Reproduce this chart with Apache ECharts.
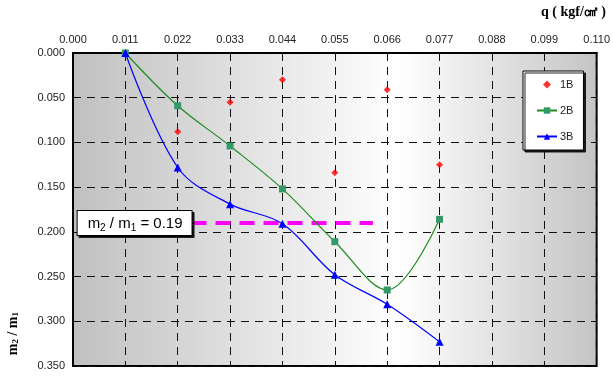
<!DOCTYPE html>
<html>
<head>
<meta charset="utf-8">
<script src="https://cdn.jsdelivr.net/npm/echarts@6/dist/echarts.min.js"></script>
<style>
  html, body { margin: 0; padding: 0; background: #fff; }
  #chart { width: 613px; height: 376px; }
</style>
</head>
<body>
<div id="chart"></div>
<script>
// Load q (kgf/cm²) on the x axis
const qValues = [0.011, 0.022, 0.033, 0.044, 0.055, 0.066, 0.077];
// m2 / m1 ratios per specimen
const s1B = [null, 0.088, 0.055, 0.030, 0.134, 0.041, 0.125];
const s2B = [0.000, 0.059, 0.104, 0.152, 0.211, 0.265, 0.186];
const s3B = [0.000, 0.128, 0.169, 0.191, 0.248, 0.281, 0.323];
// Reference ratio line
const refRatio = 0.19;
const refRange = [0.0249, 0.0630];

const pairs = (ys) => qValues.map((x, i) => [x, ys[i]]).filter(p => p[1] !== null);

const chart = echarts.init(document.getElementById('chart'), null, { renderer: 'canvas' });

const tickFont = { fontFamily: 'Liberation Sans, Arial, sans-serif', fontSize: 11, color: '#222' };
// square-aspect diamond so the legend keeps it small inside the wide item box
const diamondIcon = 'path://M5,0 L10,5 L5,10 L0,5 Z';

chart.setOption({
  animation: false,
  backgroundColor: '#ffffff',
  grid: {
    left: 73, right: 13, top: 53, bottom: 10,
    show: true,
    borderColor: '#000',
    borderWidth: 2,
    backgroundColor: new echarts.graphic.LinearGradient(0, 0, 1, 0, [
      { offset: 0, color: '#c0c0c0' },
      { offset: 0.62, color: '#ffffff' },
      { offset: 1, color: '#c4c4c4' }
    ])
  },
  xAxis: {
    type: 'value',
    position: 'top',
    min: 0, max: 0.11, interval: 0.011,
    axisLine: { show: true, lineStyle: { color: '#000', width: 2 } },
    axisTick: { show: true, inside: true, length: 4, lineStyle: { color: '#000' } },
    axisLabel: Object.assign({ margin: 8, formatter: v => v.toFixed(3) }, tickFont),
    splitLine: { show: true, lineStyle: { color: '#111', width: 1, type: [8, 6] } }
  },
  yAxis: {
    type: 'value',
    inverse: true,
    min: 0, max: 0.35, interval: 0.05,
    axisLine: { show: true, lineStyle: { color: '#000', width: 2 } },
    axisTick: { show: true, inside: true, length: 4, lineStyle: { color: '#000' } },
    axisLabel: Object.assign({ margin: 8, formatter: v => v.toFixed(3) }, tickFont),
    splitLine: { show: true, lineStyle: { color: '#111', width: 1, type: [8, 6] } }
  },
  legend: {
    orient: 'vertical',
    left: 523, top: 71,
    padding: [7, 10, 7, 13],
    itemGap: 13,
    itemWidth: 20, itemHeight: 8,
    symbolKeepAspect: true,
    backgroundColor: '#fff',
    borderColor: '#000',
    borderWidth: 1,
    shadowColor: 'rgba(0,0,0,0.85)',
    shadowOffsetX: 2, shadowOffsetY: 2, shadowBlur: 0,
    textStyle: { fontFamily: 'Liberation Sans, Arial, sans-serif', fontSize: 11, color: '#222', lineHeight: 13, padding: [0, 0, 0, -2] },
    data: [
      { name: '1B', icon: diamondIcon },
      { name: '2B' },
      { name: '3B' }
    ]
  },
  graphic: [
    {
      type: 'text',
      right: 7, top: 5,
      style: {
        text: 'q ( kgf/㎠ )',
        font: 'bold 14px "Liberation Serif", "Times New Roman", serif',
        fill: '#000'
      }
    },
    {
      type: 'text',
      left: 6, top: 312,
      rotation: Math.PI / 2,
      style: {
        rich: {
          m: { font: 'bold 14px "Liberation Serif", serif', fill: '#000' },
          s: { font: 'bold 9px "Liberation Serif", serif', fill: '#000', verticalAlign: 'bottom', padding: [4, 0, 0, 0] }
        },
        text: '{m|m}{s|2}{m| / m}{s|1}',
        fill: '#000'
      }
    }
  ],
  series: [
    {
      name: '1B',
      type: 'scatter',
      data: pairs(s1B),
      symbol: 'diamond',
      symbolSize: 7,
      itemStyle: { color: '#ff0000' },
      z: 5
    },
    {
      name: '2B',
      type: 'line',
      data: pairs(s2B),
      smooth: 0.35,
      symbol: 'rect',
      symbolSize: 7,
      lineStyle: { color: '#1f8a1f', width: 1.2 },
      itemStyle: { color: '#339966' },
      z: 4
    },
    {
      name: '3B',
      type: 'line',
      data: pairs(s3B),
      smooth: 0.35,
      symbol: 'triangle',
      symbolSize: 8,
      lineStyle: { color: '#0000ff', width: 1.2 },
      itemStyle: { color: '#0000ff' },
      z: 4
    },
    {
      name: 'ref',
      type: 'line',
      data: [[refRange[0], refRatio], [refRange[1], refRatio]],
      symbol: 'none',
      lineStyle: { color: '#ff00ff', width: 4, type: [15, 9] },
      silent: true,
      z: 3,
      markPoint: {
        symbol: 'rect',
        symbolSize: 0,
        data: [{ coord: [refRange[0], refRatio] }],
        label: {
          show: true,
          position: 'left',
          distance: 0,
          backgroundColor: '#fff',
          borderColor: '#000',
          borderWidth: 1,
          padding: [3, 9, 2, 10],
          shadowColor: 'rgba(0,0,0,0.85)',
          shadowOffsetX: 2, shadowOffsetY: 2, shadowBlur: 0,
          formatter: '{a|m}{b|2}{a| / m}{b|1}{a| = 0.19}',
          rich: {
            a: { fontFamily: 'Liberation Sans, Arial, sans-serif', fontSize: 15, color: '#000', lineHeight: 19 },
            b: { fontFamily: 'Liberation Sans, Arial, sans-serif', fontSize: 10, color: '#000', verticalAlign: 'bottom', lineHeight: 14 }
          }
        }
      }
    }
  ]
});
</script>
</body>
</html>
